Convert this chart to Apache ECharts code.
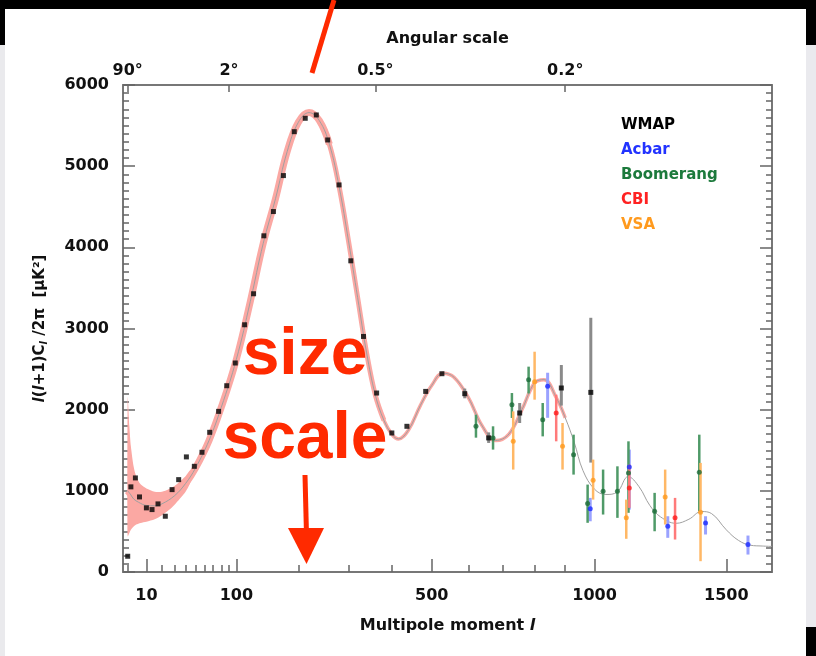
<!DOCTYPE html>
<html>
<head>
<meta charset="utf-8">
<script src="https://cdn.jsdelivr.net/npm/echarts@6/dist/echarts.min.js"></script>
<style>
html, body { margin: 0; padding: 0; background: #fff; }
#chart { width: 816px; height: 656px; }
</style>
</head>
<body>
<div id="chart"></div>
<script>
// multipole axis is stretched as l^0.6 (log-like at low l, near linear at high l)
var P = 0.6;
function u(l) { return Math.pow(l, P); }
function lOf(v) { return Math.pow(v, 1 / P); }

var lMin = 0.83, lMax = 1692;
var xTicks = [10, 100, 500, 1000, 1500];
var xMinorTicks = [2, 20, 30, 40, 50, 60, 70, 80, 90, 200, 300, 400, 600, 700, 800, 900];
var angleTicks = [2, 90, 360, 900]; // 90, 2, 0.5, 0.2 degrees

// best fit model curve
var modelL = [2, 3, 4, 6, 10, 15, 20, 30, 40, 50, 65, 80, 100, 120, 140, 160, 180, 200, 220, 240, 260, 280, 300, 320, 340, 360, 380, 400, 415, 440, 470, 500, 530, 560, 600, 640, 680, 720, 760, 800, 830, 870, 900, 930, 960, 1000, 1040, 1080, 1120, 1160, 1200, 1240, 1300, 1350, 1400, 1440, 1500, 1550, 1600, 1650, 1692];
var modelV = [1000, 950, 900, 860, 820, 815, 840, 940, 1090, 1280, 1620, 2030, 2620, 3330, 4050, 4600, 5180, 5540, 5660, 5560, 5270, 4750, 4080, 3380, 2700, 2180, 1870, 1690, 1640, 1750, 2050, 2300, 2450, 2400, 2150, 1800, 1620, 1700, 2000, 2330, 2370, 2150, 1900, 1600, 1250, 1020, 955, 985, 1175, 1050, 820, 680, 600, 650, 745, 720, 520, 390, 330, 320, 315];

// cosmic variance band at low l
var bandL = [2, 2.5, 3, 4, 5, 7, 10, 15, 20, 25, 30, 40, 45];
var bandLo = [440, 480, 520, 560, 585, 605, 620, 650, 700, 760, 830, 990, 1115];
var bandHi = [2150, 1800, 1550, 1300, 1180, 1080, 1030, 990, 990, 1020, 1060, 1180, 1255];

var wmapL = [2, 3, 4.7, 6.5, 10, 13.3, 17.2, 22.5, 27.9, 33.6, 40.8, 48.8, 57, 65.8, 76.6, 87, 98.5, 111.7, 125, 141, 156.5, 173.5, 192.6, 212.8, 234, 256.6, 280, 305, 333, 363, 399, 436, 484, 527, 590, 659, 753, 887, 987];
var wmapV = [194, 1049, 1159, 925, 790, 769, 839, 687, 1015, 1138, 1418, 1302, 1475, 1721, 1979, 2295, 2575, 3046, 3428, 4142, 4441, 4884, 5425, 5590, 5631, 5323, 4769, 3834, 2902, 2205, 1713, 1795, 2225, 2443, 2197, 1652, 1959, 2267, 2213];
var wmapBarL = [590, 659, 753, 887, 987];
var wmapBarLo = [2140, 1590, 1836, 2050, 1348];
var wmapBarHi = [2260, 1720, 2082, 2550, 3132];

var acbarL = [842, 985, 1124, 1268, 1416, 1590];
var acbarV = [2287, 778, 1295, 564, 605, 338];
var acbarLo = [1900, 625, 769, 421, 462, 215];
var acbarHi = [2455, 913, 1508, 687, 687, 449];

var boomL = [622, 672, 729, 781, 826, 928, 976, 1030, 1081, 1121, 1218, 1391];
var boomV = [1795, 1652, 2062, 2370, 1877, 1446, 843, 995, 995, 1221, 748, 1229];
var boomLo = [1655, 1508, 1898, 2200, 1671, 1200, 606, 708, 667, 729, 502, 748];
var boomHi = [1938, 1795, 2205, 2530, 2082, 1692, 1077, 1262, 1302, 1610, 975, 1692];

var cbiL = [870, 1124, 1296];
var cbiV = [1959, 1036, 667];
var cbiLo = [1610, 790, 400];
var cbiHi = [2185, 1323, 913];

var vsaL = [733, 800, 891, 995, 1113, 1258, 1396];
var vsaV = [1610, 2345, 1548, 1130, 667, 925, 736];
var vsaLo = [1262, 2123, 1262, 892, 409, 585, 133];
var vsaHi = [1979, 2714, 1836, 1385, 892, 1262, 1344];

var PINK = '#fba8a3';
var RED = '#ff2a00';
var FONT = 'DejaVu Sans';

function pts(L, V) {
    return L.map(function(l, i) { return [u(l), V[i]]; });
}
function modelPart(from, to) {
    var out = [];
    modelL.forEach(function(l, i) {
        if (l >= from && l <= to) out.push([u(l), modelV[i]]);
    });
    return out;
}
function errorBars(name, L, lo, hi, color, w) {
    return {
        name: name,
        type: 'custom',
        z: 3,
        encode: {x: 0, y: [1, 2]},
        renderItem: function(params, api) {
            var a = api.coord([api.value(0), api.value(1)]);
            var b = api.coord([api.value(0), api.value(2)]);
            return {
                type: 'rect',
                shape: {x: a[0] - w / 2, y: b[1], width: w, height: a[1] - b[1]},
                style: {fill: color}
            };
        },
        data: L.map(function(l, i) { return [u(l), lo[i], hi[i]]; })
    };
}
function dots(name, L, V, color, symbol, size) {
    return {
        name: name,
        type: 'scatter',
        z: 4,
        symbol: symbol,
        symbolSize: size,
        itemStyle: {color: color},
        data: pts(L, V)
    };
}
function label(values, fmt, margin) {
    return {
        customValues: values,
        formatter: fmt,
        margin: margin,
        fontSize: 16,
        fontWeight: 'bold',
        fontFamily: FONT,
        color: '#111'
    };
}

var lineStyle = {color: '#777', width: 2};
var tickStyle = {color: '#666', width: 1.5};

var chart = echarts.init(document.getElementById('chart'));
chart.setOption({
    backgroundColor: '#fff',
    animation: false,
    grid: {left: 123, right: 44, top: 85, bottom: 84},
    legend: {
        orient: 'vertical',
        left: 611,
        top: 113,
        itemGap: 10,
        itemWidth: 0,
        itemHeight: 0,
        icon: 'rect',
        selectedMode: false,
        textStyle: {fontSize: 15, fontWeight: 'bold', fontFamily: FONT},
        data: [
            {name: 'WMAP', textStyle: {color: '#000'}},
            {name: 'Acbar', textStyle: {color: '#2233ff'}},
            {name: 'Boomerang', textStyle: {color: '#1c7a3c'}},
            {name: 'CBI', textStyle: {color: '#ff2222'}},
            {name: 'VSA', textStyle: {color: '#ff9a1e'}}
        ]
    },
    xAxis: [{
        type: 'value',
        position: 'bottom',
        min: u(lMin),
        max: u(lMax),
        splitLine: {show: false},
        axisLine: {lineStyle: lineStyle},
        axisTick: {inside: true, length: 13, customValues: xTicks.map(u), lineStyle: tickStyle},
        axisLabel: label(xTicks.map(u), function(v) { return String(Math.round(lOf(v))); }, 16),
        name: 'Multipole moment {i|l}',
        nameLocation: 'middle',
        nameGap: 46,
        nameTextStyle: {
            fontSize: 16, fontWeight: 'bold', fontFamily: FONT, color: '#111',
            rich: {i: {fontSize: 16, fontWeight: 'bold', fontStyle: 'italic', fontFamily: FONT, color: '#111'}}
        }
    }, {
        type: 'value',
        position: 'bottom',
        min: u(lMin),
        max: u(lMax),
        splitLine: {show: false},
        axisLine: {show: false},
        axisTick: {inside: true, length: 7, customValues: xMinorTicks.map(u), lineStyle: tickStyle},
        axisLabel: {show: false}
    }, {
        type: 'value',
        position: 'top',
        min: u(lMin),
        max: u(lMax),
        splitLine: {show: false},
        axisLine: {lineStyle: lineStyle},
        axisTick: {inside: true, length: 7, customValues: angleTicks.map(u), lineStyle: tickStyle},
        axisLabel: label(angleTicks.map(u), function(v) {
            return (Math.round(180 / lOf(v) * 10) / 10) + '°';
        }, 6),
        name: 'Angular scale',
        nameLocation: 'middle',
        nameGap: 38,
        nameTextStyle: {fontSize: 16, fontWeight: 'bold', fontFamily: FONT, color: '#111'}
    }],
    yAxis: [{
        type: 'value',
        position: 'left',
        min: 0,
        max: 6000,
        interval: 1000,
        splitLine: {show: false},
        axisLine: {show: true, lineStyle: lineStyle},
        axisTick: {inside: true, length: 12, lineStyle: tickStyle},
        minorTick: {show: true, splitNumber: 10, length: 6, lineStyle: tickStyle},
        axisLabel: {
            margin: 14, fontSize: 16, fontWeight: 'bold', fontFamily: FONT, color: '#111',
            formatter: function(v) { return String(v); }
        },
        name: '{i|l}({i|l}+1)C{s|l} /2π  [μK²]',
        nameLocation: 'middle',
        nameGap: 74,
        nameRotate: 90,
        nameTextStyle: {
            fontSize: 15, fontWeight: 'bold', fontFamily: FONT, color: '#111',
            rich: {
                i: {fontSize: 15, fontWeight: 'bold', fontStyle: 'italic', fontFamily: FONT, color: '#111'},
                s: {fontSize: 10, fontWeight: 'bold', fontStyle: 'italic', fontFamily: FONT, color: '#111', verticalAlign: 'bottom', padding: [8, 0, 0, 0]}
            }
        }
    }, {
        type: 'value',
        position: 'right',
        min: 0,
        max: 6000,
        interval: 1000,
        splitLine: {show: false},
        axisLine: {show: true, lineStyle: lineStyle},
        axisTick: {inside: true, length: 12, lineStyle: tickStyle},
        minorTick: {show: true, splitNumber: 10, length: 6, lineStyle: tickStyle},
        axisLabel: {show: false}
    }],
    series: [
        {
            // band drawn as one smoothed polygon: upper edge out, lower edge back
            type: 'custom', silent: true, z: 1,
            encode: {x: 0, y: [1, 2]},
            renderItem: function(params, api) {
                if (params.dataIndexInside !== 0) return null;
                var up = [], down = [];
                for (var i = 0; i < params.dataInsideLength; i++) {
                    up.push(api.coord([api.value(0, i), api.value(2, i)]));
                    down.push(api.coord([api.value(0, i), api.value(1, i)]));
                }
                return {
                    type: 'polygon',
                    shape: {points: up.concat(down.reverse()), smooth: 0.25},
                    style: {fill: PINK}
                };
            },
            data: bandL.map(function(l, i) { return [u(l), bandLo[i], bandHi[i]]; })
        },
        {type: 'line', symbol: 'none', smooth: 0.4, silent: true, z: 1, lineStyle: {color: PINK, width: 7}, data: modelPart(2, 260)},
        {type: 'line', symbol: 'none', smooth: 0.4, silent: true, z: 1, lineStyle: {color: PINK, width: 5}, data: modelPart(240, 380)},
        {type: 'line', symbol: 'none', smooth: 0.4, silent: true, z: 1, lineStyle: {color: PINK, width: 3.5}, data: modelPart(360, 900)},
        {type: 'line', symbol: 'none', smooth: 0.4, silent: true, z: 2, lineStyle: {color: '#a0a0a0', width: 1}, data: pts(modelL, modelV)},

        errorBars('WMAP', wmapBarL, wmapBarLo, wmapBarHi, '#8a8a8a', 3),
        errorBars('Acbar', acbarL, acbarLo, acbarHi, '#9aa2ff', 3),
        errorBars('Boomerang', boomL, boomLo, boomHi, '#4f9a68', 2.5),
        errorBars('CBI', cbiL, cbiLo, cbiHi, '#ff7a7a', 2.5),
        errorBars('VSA', vsaL, vsaLo, vsaHi, '#ffb866', 2.5),

        dots('WMAP', wmapL, wmapV, '#000', 'rect', 5),
        dots('Acbar', acbarL, acbarV, '#1a2bff', 'circle', 5),
        dots('Boomerang', boomL, boomV, '#1c6b38', 'circle', 5),
        dots('CBI', cbiL, cbiV, '#ff1a1a', 'circle', 5),
        dots('VSA', vsaL, vsaV, '#ff9a1e', 'circle', 5)
    ],
    graphic: [
        // slide frame around the picture
        {type: 'rect', shape: {x: 0, y: 0, width: 816, height: 9}, style: {fill: '#000'}},
        {type: 'rect', shape: {x: 0, y: 0, width: 5, height: 45}, style: {fill: '#000'}},
        {type: 'rect', shape: {x: 806, y: 0, width: 10, height: 45}, style: {fill: '#000'}},
        {type: 'rect', shape: {x: 0, y: 45, width: 5, height: 611}, style: {fill: '#eaeaed'}},
        {type: 'rect', shape: {x: 806, y: 45, width: 10, height: 582}, style: {fill: '#eaeaee'}},
        {type: 'rect', shape: {x: 806, y: 627, width: 10, height: 29}, style: {fill: '#000'}},
        // annotations
        {type: 'line', z: 100, shape: {x1: 312, y1: 73, x2: 334, y2: 0}, style: {stroke: RED, lineWidth: 5}},
        {type: 'text', z: 100, x: 305, y: 356, style: {text: 'size', fontSize: 66, fontWeight: 'bold', fontFamily: 'Liberation Sans', fill: RED, align: 'center', verticalAlign: 'middle'}},
        {type: 'text', z: 100, x: 305, y: 440, style: {text: 'scale', fontSize: 66, fontWeight: 'bold', fontFamily: 'Liberation Sans', fill: RED, align: 'center', verticalAlign: 'middle'}},
        {type: 'line', z: 100, shape: {x1: 305, y1: 475, x2: 306.5, y2: 535}, style: {stroke: RED, lineWidth: 5}},
        {type: 'polygon', z: 100, shape: {points: [[288, 528], [324, 528], [306.5, 564]]}, style: {fill: RED}}
    ]
});
</script>
</body>
</html>
